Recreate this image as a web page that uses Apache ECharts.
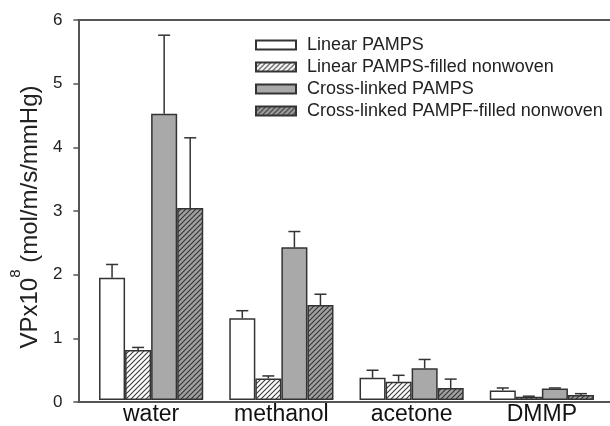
<!DOCTYPE html>
<html>
<head>
<meta charset="utf-8">
<script src="https://cdn.jsdelivr.net/npm/echarts@6/dist/echarts.min.js"></script>
<style>html,body{margin:0;padding:0;background:#fff}#c{width:610px;height:426px}</style>
</head>
<body>
<div id="c"></div>
<script>
// ---- data ----
var categories = ['water', 'methanol', 'acetone', 'DMMP'];
var seriesNames = ['Linear PAMPS', 'Linear PAMPS-filled nonwoven', 'Cross-linked PAMPS', 'Cross-linked PAMPF-filled nonwoven'];
var linearPAMPS = [1.93, 1.29, 0.35, 0.15];
var linearPAMPSErr = [0.21, 0.12, 0.12, 0.04];
var linearNonwoven = [0.79, 0.34, 0.29, 0.05];
var linearNonwovenErr = [0.04, 0.04, 0.10, 0.01];
var crossPAMPS = [4.52, 2.41, 0.50, 0.18];
var crossPAMPSErr = [1.24, 0.25, 0.14, 0.01];
var crossNonwoven = [3.03, 1.50, 0.19, 0.08];
var crossNonwovenErr = [1.11, 0.17, 0.14, 0.02];
var yTicks = [0, 1, 2, 3, 4, 5, 6];

var values = [linearPAMPS, linearNonwoven, crossPAMPS, crossNonwoven];
var errors = [linearPAMPSErr, linearNonwovenErr, crossPAMPSErr, crossNonwovenErr];

function hatch(bg, fg) {
  var s = 5;
  var c = document.createElement('canvas');
  c.width = s; c.height = s;
  var g = c.getContext('2d');
  g.fillStyle = bg; g.fillRect(0, 0, s, s);
  g.strokeStyle = fg; g.lineWidth = 1.1;
  g.beginPath();
  g.moveTo(-1, s + 1); g.lineTo(s + 1, -1);
  g.moveTo(-1, 1); g.lineTo(1, -1);
  g.moveTo(s - 1, s + 1); g.lineTo(s + 1, s - 1);
  g.stroke();
  return { image: c, repeat: 'repeat' };
}

var fills = ['#ffffff', hatch('#ffffff', '#3a3a3a'), '#a9a9a9', hatch('#a0a0a0', '#333333')];
var FONT = '"Liberation Sans", Arial, sans-serif';
var BAR_FRAC = 0.2;

var series = [];
for (var i = 0; i < 4; i++) {
  series.push({
    name: seriesNames[i], type: 'bar', xAxisIndex: 1, yAxisIndex: 1,
    data: values[i], barWidth: (BAR_FRAC * 100) + '%', barGap: '0%',
    itemStyle: { color: fills[i], borderColor: '#333', borderWidth: 1.5 },
    emphasis: { disabled: true }, z: 2
  });
}
for (var j = 0; j < 4; j++) {
  (function (k) {
    var d = categories.map(function (c, ci) { return [ci, values[k][ci], errors[k][ci]]; });
    series.push({
      type: 'custom', xAxisIndex: 1, yAxisIndex: 1, z: 3, silent: true,
      data: d,
      renderItem: function (params, api) {
        var ci = api.value(0), v = api.value(1), e = api.value(2);
        var band = api.size([1, 0])[0];
        var off = (k - 1.5) * band * BAR_FRAC;
        var b = api.coord([ci, v]);
        var t = api.coord([ci, v + e]);
        var x = b[0] + off;
        var st = { stroke: '#333', lineWidth: 1.5 };
        return { type: 'group', children: [
          { type: 'line', shape: { x1: x, y1: b[1], x2: x, y2: t[1] }, style: st },
          { type: 'line', shape: { x1: x - 6, y1: t[1], x2: x + 6, y2: t[1] }, style: st }
        ] };
      }
    });
  })(j);
}

var chart = echarts.init(document.getElementById('c'));
chart.setOption({
  animation: false,
  backgroundColor: '#fff',
  grid: [
    { left: 73, right: 0, top: 20, bottom: 24 },
    { left: 86, right: 3, top: 20, bottom: 24 }
  ],
  legend: {
    data: seriesNames, orient: 'vertical', left: 250, top: 31,
    itemWidth: 40, itemHeight: 9, itemGap: 4, icon: 'rect',
    textStyle: { fontFamily: FONT, fontSize: 18, color: '#222', lineHeight: 18, padding: [0, 0, 0, 6] },
    selectedMode: false
  },
  xAxis: [
    { type: 'category', gridIndex: 0, data: [''], axisLine: { show: true, lineStyle: { color: '#555', width: 2 } },
      axisTick: { show: false }, axisLabel: { show: false } },
    { type: 'category', gridIndex: 1, data: categories, axisLine: { show: false }, axisTick: { show: false },
      axisLabel: { fontFamily: FONT, fontSize: 23, color: '#111', margin: 3 } },
    { type: 'category', gridIndex: 0, position: 'top', data: [''], axisLine: { show: true, lineStyle: { color: '#555', width: 2 } },
      axisTick: { show: false }, axisLabel: { show: false } }
  ],
  yAxis: [
    { type: 'value', gridIndex: 0, min: yTicks[0], max: yTicks[yTicks.length - 1], interval: 1,
      name: '{a|VPx10}{b|8}{a| (mol/m/s/mmHg)}', nameLocation: 'middle', nameGap: 30,
      nameTextStyle: { padding: [0, 12, 0, 0], rich: {
        a: { fontFamily: FONT, fontSize: 24, color: '#222', lineHeight: 34, verticalAlign: 'bottom' },
        b: { fontFamily: FONT, fontSize: 15, color: '#222', verticalAlign: 'top' }
      } },
      axisLine: { show: true, lineStyle: { color: '#555', width: 2 } },
      axisTick: { show: true, length: 5, lineStyle: { color: '#555', width: 1.5 } },
      axisLabel: { fontFamily: FONT, fontSize: 17, color: '#222', margin: 16 },
      splitLine: { show: false } },
    { type: 'value', gridIndex: 1, min: yTicks[0], max: yTicks[yTicks.length - 1], interval: 1, show: false,
      splitLine: { show: false } }
  ],
  series: series
});
</script>
</body>
</html>
